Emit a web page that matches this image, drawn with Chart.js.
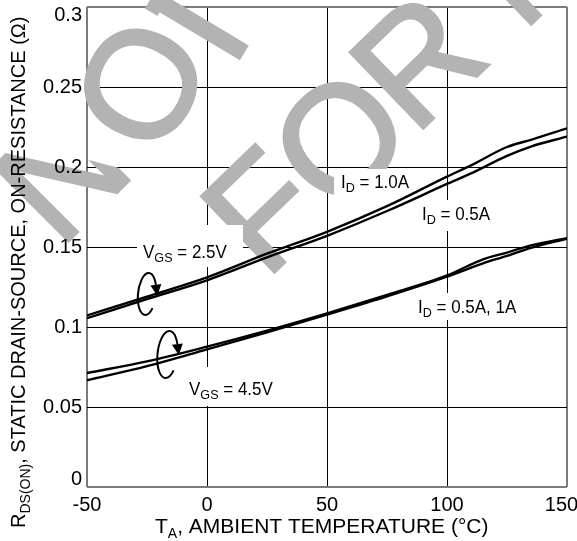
<!DOCTYPE html>
<html>
<head>
<meta charset="utf-8">
<script src="https://cdn.jsdelivr.net/npm/chart.js@4.4.1/dist/chart.umd.min.js"></script>
<style>
  html, body { margin: 0; padding: 0; background: #fff; }
  canvas { display: block; }
</style>
</head>
<body>
<canvas id="chart" width="577" height="541"></canvas>
<script>
const FONT = "'Liberation Sans', Arial, Helvetica, sans-serif";

// Ambient temperature sample points (°C)
const tempVgs25 = [-50, -25, 0, 25, 50, 75, 100, 110, 125, 135, 150];
const tempVgs45 = [-50, -25, 0, 25, 50, 75, 100, 115, 125, 135, 150];

// Static drain-source on-resistance (ohms)
const rdsVgs25Id10 = [0.1072, 0.1190, 0.1310, 0.1458, 0.1595, 0.1755, 0.1940, 0.2010, 0.2125, 0.2170, 0.2242];
const rdsVgs25Id05 = [0.1055, 0.1175, 0.1292, 0.1435, 0.1570, 0.1725, 0.1894, 0.1960, 0.2070, 0.2128, 0.2190];
const rdsVgs45IdA  = [0.0712, 0.0785, 0.0877, 0.0977, 0.1085, 0.1200, 0.1322, 0.1423, 0.1465, 0.1510, 0.1555];
const rdsVgs45IdB  = [0.0667, 0.0755, 0.0860, 0.0967, 0.1078, 0.1192, 0.1315, 0.1398, 0.1445, 0.1495, 0.1552];

// Axis tick labels
const xTickLabels = ['-50', '0', '50', '100', '150'];
const yTickLabels = ['0', '0.05', '0.1', '0.15', '0.2', '0.25', '0.3'];

function toPoints(xs, ys) {
  return xs.map((x, i) => ({ x: x, y: ys[i] }));
}

function curve(xs, ys) {
  return {
    data: toPoints(xs, ys),
    borderColor: '#000',
    borderWidth: 2.4,
    pointRadius: 0,
    fill: false,
    cubicInterpolationMode: 'monotone'
  };
}

// Draws a run of text pieces, some of them as subscripts
function drawRich(ctx, x, y, parts, size, subSize, subDrop, sx) {
  ctx.save();
  ctx.translate(x, y);
  ctx.scale(sx || 1, 1);
  ctx.textAlign = 'left';
  ctx.textBaseline = 'alphabetic';
  ctx.fillStyle = '#000';
  let cx = 0;
  parts.forEach(p => {
    const sub = p[1] === true;
    ctx.font = (sub ? subSize : size) + 'px ' + FONT;
    ctx.fillText(p[0], cx, sub ? subDrop : 0);
    cx += ctx.measureText(p[0]).width;
  });
  ctx.restore();
}

// Background watermark lettering (each letter centred on its cap box)
const WM_SIZE = 153;
const watermark = [
  { ch: 'N', x: 60,  y: 172, r: -45, keepBelow: [[0, 137], [200, 189]] },
  { ch: 'O', x: 139, y: 83,  r: -63 },
  { ch: 'T', x: 196, y: 24,  r: -59, stemOnly: true },
  { ch: 'F', x: 261, y: 209, r: -44 },
  { ch: 'O', x: 338, y: 137, r: -44 },
  { ch: 'R', x: 416, y: 59,  r: -44 },
  { ch: 'N', x: 524, y: -45, r: -44 }
];

// Curve labels: white box, then text
const curveLabels = [
  { box: [137, 225, 106, 42], x: 143, y: 258, parts: [['V'], ['GS', true], [' = 2.5V']] },
  { box: [334, 169, 78, 27],  x: 341, y: 188, parts: [['I'], ['D', true], [' = 1.0A']] },
  { box: [416, 200, 78, 31],  x: 422, y: 220, parts: [['I'], ['D', true], [' = 0.5A']] },
  { box: [412, 293, 105, 27], x: 418, y: 313, parts: [['I'], ['D', true], [' = 0.5A, 1A']] },
  { box: [183, 367, 92, 39],  x: 189, y: 395, parts: [['V'], ['GS', true], [' = 4.5V']] }
];

// Looped arrows marking each VGS pair
const loops = [
  { cx: 147,   cy: 294,   rx: 9,  ry: 21,   rot: 0.1 },
  { cx: 167.5, cy: 354.5, rx: 10, ry: 23.5, rot: 0.1 }
];

const decorations = {
  id: 'decorations',
  beforeDatasetsDraw(chart) {
    const ctx = chart.ctx;
    ctx.save();
    ctx.fillStyle = '#b3b3b3';
    ctx.strokeStyle = '#b3b3b3';
    ctx.lineWidth = 3;
    ctx.font = WM_SIZE + 'px ' + FONT;
    ctx.textAlign = 'center';
    ctx.textBaseline = 'alphabetic';
    const capMid = WM_SIZE * 0.358;
    watermark.forEach(w => {
      ctx.save();
      if (w.keepBelow) {
        const [a, b] = w.keepBelow;
        ctx.beginPath();
        ctx.moveTo(a[0], a[1]);
        ctx.lineTo(b[0], b[1]);
        ctx.lineTo(b[0], 541);
        ctx.lineTo(a[0], 541);
        ctx.closePath();
        ctx.clip();
      }
      ctx.translate(w.x, w.y);
      ctx.rotate(w.r * Math.PI / 180);
      if (w.stemOnly) {
        ctx.beginPath();
        ctx.rect(-13, -80, 26, 160);
        ctx.clip();
      }
      ctx.fillText(w.ch, 0, capMid);
      ctx.strokeText(w.ch, 0, capMid);
      ctx.restore();
    });
    ctx.restore();

    curveLabels.forEach(l => {
      ctx.save();
      ctx.fillStyle = '#fff';
      ctx.fillRect(l.box[0], l.box[1], l.box[2], l.box[3]);
      ctx.restore();
      drawRich(ctx, l.x, l.y, l.parts, 17.5, 13, 4, 0.97);
    });
  },
  afterDatasetsDraw(chart) {
    const ctx = chart.ctx;
    ctx.save();
    ctx.strokeStyle = '#000';
    ctx.fillStyle = '#000';
    ctx.lineWidth = 2;
    loops.forEach(o => {
      const a0 = 0.7, a1 = 2 * Math.PI - 0.5;
      ctx.beginPath();
      ctx.ellipse(o.cx, o.cy, o.rx, o.ry, o.rot, a0, a1, false);
      ctx.stroke();
      const c = Math.cos(o.rot), s = Math.sin(o.rot);
      const px = o.cx + o.rx * Math.cos(a1) * c - o.ry * Math.sin(a1) * s;
      const py = o.cy + o.rx * Math.cos(a1) * s + o.ry * Math.sin(a1) * c;
      let tx = -o.rx * Math.sin(a1) * c - o.ry * Math.cos(a1) * s;
      let ty = -o.rx * Math.sin(a1) * s + o.ry * Math.cos(a1) * c;
      const tl = Math.hypot(tx, ty);
      tx /= tl; ty /= tl;
      const len = 11, hw = 5.5;
      ctx.beginPath();
      ctx.moveTo(px + tx * len, py + ty * len);
      ctx.lineTo(px - ty * hw, py + tx * hw);
      ctx.lineTo(px + ty * hw, py - tx * hw);
      ctx.closePath();
      ctx.fill();
    });
    ctx.restore();
  },
  afterDraw(chart) {
    const ctx = chart.ctx;
    // x axis title
    drawRich(ctx, 155, 533, [['T'], ['A', true], [', AMBIENT TEMPERATURE (°C)']], 21, 14, 5, 1);
    // y axis title, reading bottom to top
    ctx.save();
    ctx.translate(25, 528);
    ctx.rotate(-Math.PI / 2);
    drawRich(ctx, 0, 0, [['R'], ['DS(ON)', true], [', STATIC DRAIN-SOURCE, ON-RESISTANCE (Ω)']], 20, 14, 5, 1);
    ctx.restore();
  }
};

const edge = (ctx, lo, hi) => (ctx.tick && (ctx.tick.value === lo || ctx.tick.value === hi));

new Chart(document.getElementById('chart'), {
  type: 'line',
  data: {
    datasets: [
      curve(tempVgs25, rdsVgs25Id10),
      curve(tempVgs25, rdsVgs25Id05),
      curve(tempVgs45, rdsVgs45IdA),
      curve(tempVgs45, rdsVgs45IdB)
    ]
  },
  options: {
    responsive: false,
    animation: false,
    devicePixelRatio: 1,
    layout: { padding: { top: 7, right: 10, left: 0, bottom: 0 } },
    plugins: { legend: { display: false }, tooltip: { enabled: false } },
    scales: {
      x: {
        type: 'linear',
        min: -50, max: 150,
        ticks: {
          stepSize: 50,
          z: 1,
          padding: 6,
          maxRotation: 0,
          color: '#000',
          font: { family: FONT, size: 20 },
          callback: (v, i) => (i === xTickLabels.length - 1 ? xTickLabels[i] + '  ' : xTickLabels[i])
        },
        grid: {
          drawTicks: false,
          color: c => (edge(c, -50, 150) ? '#7a7a7a' : '#000'),
          lineWidth: c => (edge(c, -50, 150) ? 2 : 1)
        },
        border: { display: false },
        afterFit(s) { s.height = 54; s.paddingLeft = 0; s.paddingRight = 0; }
      },
      y: {
        min: 0, max: 0.3,
        ticks: {
          stepSize: 0.05,
          z: 1,
          padding: 5,
          color: '#000',
          font: { family: FONT, size: 20, lineHeight: 0.8 },
          callback: (v, i) => {
            if (i === 0) return [yTickLabels[i], ''];
            if (i === yTickLabels.length - 1) return ['', yTickLabels[i]];
            return yTickLabels[i];
          }
        },
        grid: {
          drawTicks: false,
          color: c => (edge(c, 0, 0.3) ? '#7a7a7a' : '#000'),
          lineWidth: c => (edge(c, 0, 0.3) ? 2 : 1)
        },
        border: { display: false },
        afterFit(s) { s.width = 87; s.paddingTop = 0; s.paddingBottom = 0; }
      }
    }
  },
  plugins: [decorations]
});
</script>
</body>
</html>
